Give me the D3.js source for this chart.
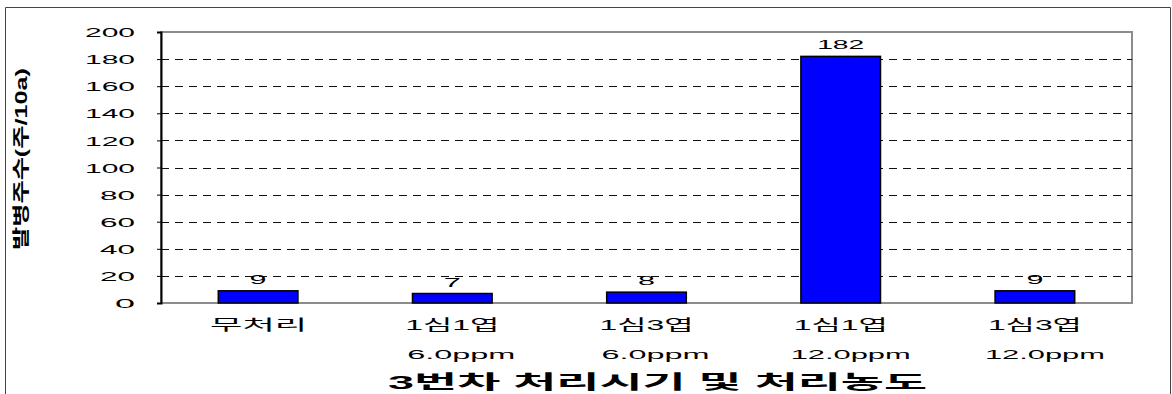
<!DOCTYPE html>
<html lang="ko">
<head>
<meta charset="utf-8">
<script src="https://cdn.jsdelivr.net/npm/d3@7"></script>
<style>
  html, body { margin: 0; padding: 0; background: #fff; }
  svg { display: block; }
  text { font-family: "Liberation Sans", Arial, "Noto Sans CJK KR", sans-serif; fill: #000; }
</style>
</head>
<body>
<svg id="chart" width="1172" height="394"></svg>
<script>
// Treatment groups (two-line labels) and counts
const categories = ["무처리", "1심1엽 6.0ppm", "1심3엽 6.0ppm", "1심1엽 12.0ppm", "1심3엽 12.0ppm"];
const labelLine1 = ["무처리", "1심1엽", "1심3엽", "1심1엽", "1심3엽"];
const labelLine2 = ["", "6.0ppm", "6.0ppm", "12.0ppm", "12.0ppm"];
const values = [9, 7, 8, 182, 9];
const yTicks = [0, 20, 40, 60, 80, 100, 120, 140, 160, 180, 200];
const xTitle = "3번차 처리시기 및 처리농도";
const yTitle = "발병주수(주/10a)";

const svg = d3.select("#chart");
const plot = { left: 161, right: 1132, top: 32, bottom: 303 };

const x = d3.scaleBand().domain(categories).range([plot.left, plot.right]).paddingInner(0.59).paddingOuter(0.295);
const y = d3.scaleLinear().domain([0, 200]).range([plot.bottom, plot.top]);

// wide, condensed-spacing numerals: width grows with character count
const numWidth = s => 20 + 15 * (String(s).length - 1);

// outer frame
svg.append("path")
  .attr("d", "M5.5,400 V7.5 H1170.5 V400")
  .attr("fill", "none").attr("stroke", "#444").attr("stroke-width", 1);

// plot area border
svg.append("rect")
  .attr("x", plot.left).attr("y", plot.top)
  .attr("width", plot.right - plot.left).attr("height", plot.bottom - plot.top)
  .attr("fill", "#fff").attr("stroke", "#8c8c8c").attr("stroke-width", 2);

// dashed gridlines
svg.append("g").selectAll("line")
  .data(yTicks.filter(d => d > 0 && d < 200))
  .join("line")
  .attr("x1", plot.left).attr("x2", plot.right)
  .attr("y1", d => Math.round(y(d)) + 0.5).attr("y2", d => Math.round(y(d)) + 0.5)
  .attr("stroke", "#111").attr("stroke-width", 1)
  .attr("stroke-dasharray", "8,6");

// left axis with ticks and stretched numerals
const yAxis = d3.axisLeft(y).tickValues(yTicks).tickSize(4).tickFormat(d3.format("d"));
const gy = svg.append("g").attr("transform", `translate(${plot.left},0)`).call(yAxis);
gy.select(".domain").attr("stroke", "#000").attr("stroke-width", 2);
gy.selectAll(".tick line").attr("stroke", "#000");
gy.selectAll(".tick text").remove();
gy.selectAll(".tick").append("text")
  .attr("text-anchor", "start")
  .attr("x", d => -26 - numWidth(d))
  .attr("dy", "0.36em")
  .attr("font-size", 13)
  .attr("textLength", d => numWidth(d))
  .attr("lengthAdjust", "spacingAndGlyphs")
  .text(d => d);

// bars
svg.append("g").selectAll("rect")
  .data(values)
  .join("rect")
  .attr("x", (d, i) => x(categories[i]))
  .attr("y", d => y(d))
  .attr("width", x.bandwidth())
  .attr("height", d => y(0) - y(d))
  .attr("fill", "#0000ff").attr("stroke", "#000").attr("stroke-width", 1.5);

// value labels
svg.append("g").selectAll("text")
  .data(values)
  .join("text")
  .attr("x", (d, i) => x(categories[i]) + x.bandwidth() / 2 - (numWidth(d) - 3) / 2)
  .attr("y", d => y(d) - 7)
  .attr("font-size", 13)
  .attr("textLength", d => numWidth(d) - 3)
  .attr("lengthAdjust", "spacingAndGlyphs")
  .text(d => d);

// category labels (two lines)
const cat = svg.append("g").selectAll("g")
  .data(categories)
  .join("g")
  .attr("transform", d => `translate(${x(d) + x.bandwidth() / 2},0)`);
cat.append("text")
  .attr("x", (d, i) => i === 0 ? -48 : -47)
  .attr("y", 330)
  .attr("font-size", 15)
  .attr("textLength", (d, i) => i === 0 ? 97 : 94)
  .attr("lengthAdjust", "spacingAndGlyphs")
  .text((d, i) => labelLine1[i]);
cat.filter((d, i) => labelLine2[i] !== "").append("text")
  .attr("x", d => labelLine2[categories.indexOf(d)].length > 6 ? -50 : -45)
  .attr("y", 359)
  .attr("font-size", 13)
  .attr("textLength", d => labelLine2[categories.indexOf(d)].length > 6 ? 120 : 108)
  .attr("lengthAdjust", "spacingAndGlyphs")
  .text(d => labelLine2[categories.indexOf(d)]);

// x axis title
svg.append("text")
  .attr("x", 388).attr("y", 389)
  .attr("font-size", 19).attr("font-weight", "bold")
  .attr("textLength", 539).attr("lengthAdjust", "spacingAndGlyphs")
  .text(xTitle);

// y axis title (rotated, compressed)
svg.append("text")
  .attr("transform", "translate(27,250) rotate(-90)")
  .attr("font-size", 17).attr("font-weight", "bold")
  .attr("textLength", 182).attr("lengthAdjust", "spacingAndGlyphs")
  .text(yTitle);
</script>
</body>
</html>
